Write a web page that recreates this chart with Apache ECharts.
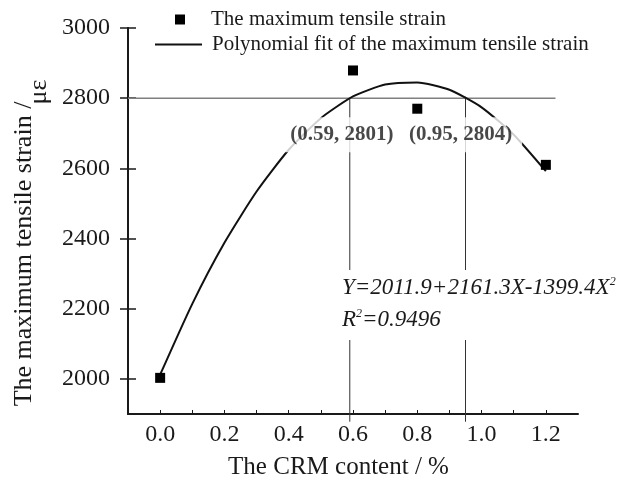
<!DOCTYPE html>
<html>
<head>
<meta charset="utf-8">
<script src="https://cdn.jsdelivr.net/npm/echarts@6/dist/echarts.min.js"></script>
<style>
  html, body { margin: 0; padding: 0; background: #fff; }
  #chart { width: 627px; height: 482px; }
</style>
</head>
<body>
<div id="chart"></div>
<script>
// Measured maximum tensile strain for each CRM content
const crmContent = [0.0, 0.6, 0.8, 1.2];
const tensileStrain = [2003, 2879, 2770, 2610];

// Quadratic fit curve sampled along the CRM axis
const fitX = [0.0, 0.1, 0.2, 0.3, 0.4, 0.5, 0.6, 0.7, 0.8, 0.9, 1.0, 1.1, 1.2];
const fitY = [2012, 2214, 2388, 2534, 2653, 2743, 2805, 2839, 2845, 2824, 2774, 2696, 2592];

// Where the fit crosses the 2800 με level
const crossX = [0.59, 0.95];
const crossY = [2801, 2804];
const refLevel = 2800;
const refLineEnd = 1.23;

// Axis ticks and labels
const xTickValues = [0.0, 0.1, 0.2, 0.3, 0.4, 0.5, 0.6, 0.7, 0.8, 0.9, 1.0, 1.1, 1.2];
const xLabelValues = [0.0, 0.2, 0.4, 0.6, 0.8, 1.0, 1.2];
const yLabelValues = [2000, 2200, 2400, 2600, 2800, 3000];

const X_MIN = -0.1, X_MAX = 1.3, Y_MIN = 1900, Y_MAX = 3000;
const SERIF = '"Liberation Serif", "Times New Roman", serif';
const INK = '#1a1a1a';

const chart = echarts.init(document.getElementById('chart'), null, { renderer: 'canvas' });

const dropBottom = Y_MIN - 22;
const dropSeries = crossX.map((x, i) => ({
  type: 'line',
  silent: true,
  clip: false,
  symbol: 'none',
  z: 1,
  lineStyle: { color: '#333', width: 1 },
  data: [[x, crossY[i]], [x, dropBottom]]
}));

const labelOffsets = [[-7, 37], [-4, 38]];

const yAxisBase = {
  type: 'value',
  min: Y_MIN, max: Y_MAX,
  position: 'left',
  axisLine: { show: true, onZero: false, lineStyle: { color: INK, width: 2 } },
  splitLine: { show: false }
};

const option = {
  backgroundColor: '#fff',
  animation: false,
  grid: { left: 128, right: 49, top: 28, bottom: 68, outerBoundsMode: 'none', containLabel: false },
  legend: [
    {
      left: 170, top: 4,
      orient: 'vertical',
      selectedMode: false,
      itemWidth: 10, itemHeight: 10,
      data: [{ name: 'The maximum tensile strain', icon: 'rect', itemStyle: { color: '#000', opacity: 1 } }],
      textStyle: { fontFamily: SERIF, fontSize: 21, color: INK, padding: [0, 0, 0, 21] }
    },
    {
      left: 150, top: 29,
      orient: 'vertical',
      selectedMode: false,
      itemWidth: 47, itemHeight: 2,
      data: [{ name: 'Polynomial fit of the maximum tensile strain', icon: 'rect', itemStyle: { color: '#111' } }],
      textStyle: { fontFamily: SERIF, fontSize: 21, color: INK, padding: [0, 0, 0, 5] }
    }
  ],
  xAxis: {
    type: 'value',
    min: X_MIN, max: X_MAX,
    name: 'The CRM content / %',
    nameLocation: 'middle',
    nameGap: 41,
    nameTextStyle: { fontFamily: SERIF, fontSize: 25, color: INK, padding: [0, 29, 0, 0] },
    axisLine: { show: true, onZero: false, lineStyle: { color: INK, width: 2 } },
    axisTick: { show: true, inside: true, length: 4, customValues: xTickValues, lineStyle: { color: INK, width: 1 } },
    axisLabel: {
      customValues: xLabelValues,
      fontFamily: SERIF, fontSize: 24, color: INK, margin: 9,
      formatter: v => v.toFixed(1)
    },
    splitLine: { show: false }
  },
  yAxis: [
    Object.assign({}, yAxisBase, {
      axisTick: { show: true, inside: false, length: 8, customValues: yLabelValues, lineStyle: { color: INK, width: 1.5 } },
      axisLabel: {
        customValues: yLabelValues, fontFamily: SERIF, fontSize: 24, color: INK, margin: 18,
        formatter: v => String(v)
      }
    }),
    Object.assign({}, yAxisBase, {
      axisTick: { show: true, inside: true, length: 8, customValues: yLabelValues, lineStyle: { color: INK, width: 1.5 } },
      axisLabel: { show: false }
    })
  ],
  series: [
    {
      type: 'line',
      silent: true,
      symbol: 'none',
      z: 1,
      lineStyle: { color: '#808080', width: 1.5 },
      data: [[X_MIN, refLevel], [refLineEnd, refLevel]]
    },
    ...dropSeries,
    {
      name: 'Polynomial fit of the maximum tensile strain',
      type: 'line',
      smooth: 0.2,
      symbol: 'none',
      z: 3,
      lineStyle: { color: '#111', width: 2 },
      itemStyle: { color: '#111' },
      data: fitX.map((x, i) => [x, fitY[i]])
    },
    {
      name: 'The maximum tensile strain',
      type: 'scatter',
      symbol: 'rect',
      symbolSize: 10,
      z: 4,
      itemStyle: { color: '#000', opacity: 1 },
      data: crmContent.map((x, i) => [x, tensileStrain[i]])
    },
    {
      type: 'scatter',
      silent: true,
      symbolSize: 0,
      z: 6,
      data: crossX.map((x, i) => ({
        value: [x, crossY[i]],
        label: { offset: labelOffsets[i] }
      })),
      label: {
        show: true,
        position: 'inside',
        formatter: p => '(' + p.value[0].toFixed(2) + ', ' + p.value[1] + ')',
        fontFamily: SERIF,
        fontSize: 21,
        fontWeight: 'bold',
        color: INK,
        backgroundColor: '#fff',
        padding: [7, 10, 7, 8]
      }
    }
  ],
  graphic: [
    {
      type: 'text',
      z: 100,
      left: 338, top: 270,
      style: {
        text: '{i|Y=2011.9+2161.3X-1399.4X}{s|2}\n{i|R}{s|2}{i|=0.9496}',
        fill: INK,
        backgroundColor: '#fff',
        padding: [2, 4, 4, 4],
        rich: {
          i: { fontFamily: SERIF, fontStyle: 'italic', fontSize: 23, lineHeight: 32, fill: INK },
          s: { fontFamily: SERIF, fontStyle: 'italic', fontSize: 12, lineHeight: 32, verticalAlign: 'top', fill: INK, padding: [4, 0, 0, 0] }
        }
      }
    },
    {
      type: 'text',
      z: 100,
      x: 24, y: 254,
      rotation: Math.PI / 2,
      style: {
        text: 'The maximum tensile strain /',
        fontFamily: SERIF, fontSize: 26, fill: INK,
        align: 'center', verticalAlign: 'middle'
      }
    },
    {
      type: 'text',
      z: 100,
      x: 39, y: 92,
      rotation: Math.PI / 2,
      style: {
        text: 'με',
        fontFamily: SERIF, fontSize: 26, fill: INK,
        align: 'center', verticalAlign: 'middle'
      }
    }
  ]
};

chart.setOption(option);
</script>
</body>
</html>
